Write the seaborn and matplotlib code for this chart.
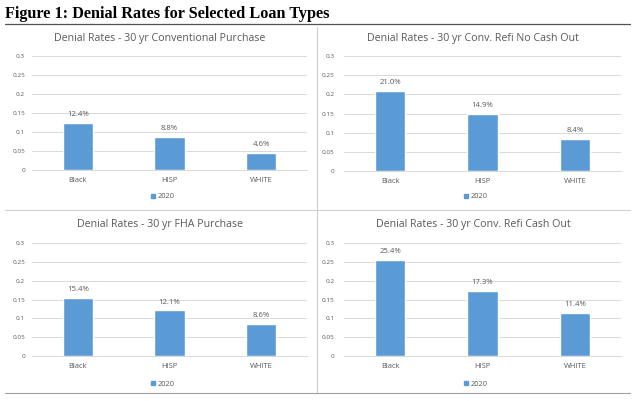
import pandas as pd
import matplotlib.pyplot as plt
import seaborn as sns
from matplotlib.lines import Line2D
from matplotlib.patches import Patch

# Dati
GROUPS = ['Black', 'HISP', 'WHITE']
TITLES = [
    'Denial Rates - 30 yr Conventional Purchase',
    'Denial Rates - 30 yr Conv. Refi No Cash Out',
    'Denial Rates - 30 yr FHA Purchase',
    'Denial Rates - 30 yr Conv. Refi Cash Out',
]
conv_purchase = [0.124, 0.088, 0.046]
refi_no_cash = [0.210, 0.149, 0.084]
fha_purchase = [0.154, 0.121, 0.086]
refi_cash_out = [0.254, 0.173, 0.114]
YTICKS = [0, 0.05, 0.1, 0.15, 0.2, 0.25, 0.3]
YTICK_LABELS = ['0', '0.05', '0.1', '0.15', '0.2', '0.25', '0.3']

BLUE = '#5B9BD5'
GREY_TXT = '#595959'
GRID = '#D9D9D9'

sns.set_theme(style='white')
plt.rcParams['font.family'] = ['Open Sans', 'DejaVu Sans']

W, H = 640, 401
fig = plt.figure(figsize=(W / 100, H / 100), dpi=100)


def fx(px):
    return px / W


def fy(py):
    return 1 - py / H


# titolo della figura
fig.text(fx(5), fy(14), 'Figure 1: Denial Rates for Selected Loan Types',
         family='Liberation Serif', fontweight='bold', fontsize=11.7,
         va='center', ha='left', color='black')
fig.add_artist(Line2D([fx(5), fx(630)], [fy(23.5), fy(23.5)], color='#505050', lw=0.9))
# separatori dei pannelli
fig.add_artist(Line2D([fx(316.5), fx(316.5)], [fy(27), fy(393)], color='#d0d0d0', lw=0.8))
fig.add_artist(Line2D([fx(5), fx(630)], [fy(210), fy(210)], color='#d0d0d0', lw=0.8))
fig.add_artist(Line2D([fx(5), fx(630)], [fy(393), fy(393)], color='#a0a0a0', lw=0.8))

# (valori, x sinistra, x destra, y di 0.3, y di 0, y titolo, y legenda, centro titolo, pad y)
panels = [
    (conv_purchase, 32, 307, 56, 170, 38, 197, 160, 5),
    (refi_no_cash, 344, 621, 56, 171, 39, 197, 473, 7),
    (fha_purchase, 32, 307, 243, 356, 225, 384, 160, 5),
    (refi_cash_out, 344, 621, 243, 356, 225, 384, 473, 7),
]

for i, (vals, x0, x1, ytop, ybot, ty, ly, tcx, ypad) in enumerate(panels):
    ax = fig.add_axes([fx(x0), fy(ybot), fx(x1 - x0), (ybot - ytop) / H])
    df = pd.DataFrame({'group': GROUPS, 'rate': vals})
    sns.barplot(data=df, x='group', y='rate', color=BLUE, width=0.33,
                saturation=1, ax=ax)
    ax.set_ylim(0, 0.3)
    ax.set_xlim(-0.5, 2.5)
    ax.set_yticks(YTICKS)
    ax.set_yticklabels(YTICK_LABELS)
    ax.yaxis.grid(True, color=GRID, lw=0.7)
    ax.set_axisbelow(True)
    for s in ax.spines.values():
        s.set_visible(False)
    ax.spines['bottom'].set_visible(True)
    ax.spines['bottom'].set_color(GRID)
    ax.spines['bottom'].set_linewidth(0.7)
    ax.tick_params(axis='both', length=0, colors=GREY_TXT)
    ax.tick_params(axis='y', pad=ypad, labelsize=4.6)
    ax.tick_params(axis='x', pad=5, labelsize=5.4)
    ax.set_xlabel('')
    ax.set_ylabel('')
    for c in ax.containers:
        ax.bar_label(c, labels=[f'{v * 100:.1f}%' for v in vals], padding=3.5,
                     fontsize=5.6, color=GREY_TXT)
    fig.text(fx(tcx), fy(ty), TITLES[i], ha='center', va='center',
             fontsize=7.7, color=GREY_TXT)
    fig.legend(handles=[Patch(color=BLUE, label='2020')], loc='center',
               bbox_to_anchor=(fx(tcx + 3), fy(ly)), frameon=False,
               fontsize=5.4, handlelength=0.55, handleheight=0.55,
               handletextpad=0.3, labelcolor=GREY_TXT)

plt.savefig('out.png', dpi=100)
